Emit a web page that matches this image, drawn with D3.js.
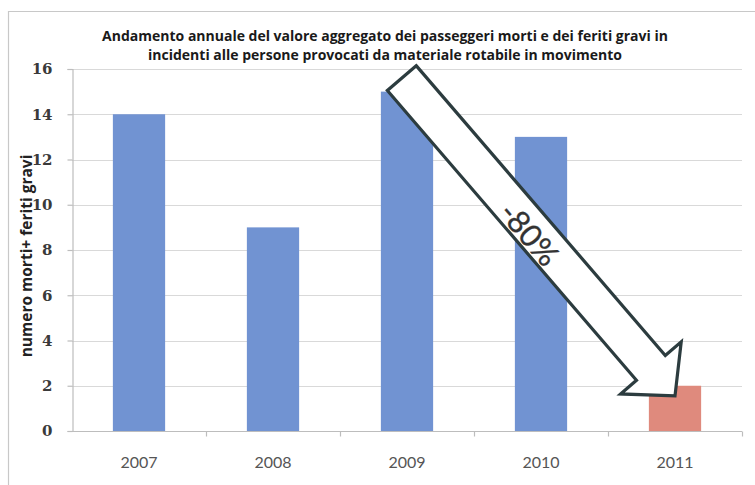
<!DOCTYPE html>
<html>
<head>
<meta charset="utf-8">
<script src="https://cdn.jsdelivr.net/npm/d3@7/dist/d3.min.js"></script>
<style>
  html, body { margin: 0; padding: 0; background: #fff; }
  svg { display: block; }
</style>
</head>
<body>
<svg id="chart" width="755" height="485"></svg>
<script>
// Yearly aggregate of passengers killed and seriously injured
const years = ["2007", "2008", "2009", "2010", "2011"];
const values = [14, 9, 15, 13, 2];
const yTicks = [0, 2, 4, 6, 8, 10, 12, 14, 16];
const titleLines = [
  "Andamento annuale del valore aggregato dei passeggeri morti e dei feriti gravi in",
  "incidenti alle persone provocati da materiale rotabile in movimento"
];
const yTitle = "numero morti+ feriti gravi";
const changeLabel = "-80%";

const svg = d3.select("#chart");
const W = 755, H = 485;
const margin = { left: 72, right: 15, top: 69, bottom: 54 };

svg.append("rect").attr("width", W).attr("height", H).attr("fill", "#fff");

// outer frame of the chart area
svg.append("path")
  .attr("d", `M8.5,${H} L8.5,11.5 L${W},11.5`)
  .attr("fill", "none")
  .attr("stroke", "#c8c8c8")
  .attr("stroke-width", 1.2);

const x = d3.scaleBand()
  .domain(years)
  .range([margin.left, W - margin.right + 2])
  .paddingInner(0.61)
  .paddingOuter(0.305);

const y = d3.scaleLinear()
  .domain([0, 16])
  .range([H - margin.bottom, margin.top]);

const x0 = x.range()[0], x1 = x.range()[1];

// horizontal gridlines
svg.append("g")
  .selectAll("line")
  .data(yTicks.filter(d => d > 0))
  .join("line")
  .attr("x1", x0).attr("x2", x1)
  .attr("y1", d => Math.round(y(d)) + 0.5)
  .attr("y2", d => Math.round(y(d)) + 0.5)
  .attr("stroke", "#d9d9d9")
  .attr("stroke-width", 1.2);

// y axis
const yAxis = svg.append("g")
  .attr("transform", `translate(${x0 + 0.5},0)`)
  .call(d3.axisLeft(y).tickValues(yTicks).tickSize(5).tickPadding(15).tickFormat(d3.format("d")));
yAxis.select(".domain").attr("stroke", "#bdbdbd").attr("stroke-width", 1.2);
yAxis.selectAll(".tick line").attr("stroke", "#bdbdbd").attr("stroke-width", 1.2);
yAxis.selectAll(".tick text")
  .attr("fill", "#3a3a3a")
  .attr("font-family", "'DejaVu Serif', serif")
  .attr("font-weight", "bold")
  .attr("font-size", "15px");

// bars
svg.append("g")
  .selectAll("rect")
  .data(years.map((yr, i) => ({ yr, v: values[i] })))
  .join("rect")
  .attr("x", d => x(d.yr))
  .attr("width", x.bandwidth())
  .attr("y", d => y(d.v))
  .attr("height", d => y(0) - y(d.v))
  .attr("fill", d => d.yr === "2011" ? "#df8a7d" : "#7193d2");

// x axis line and category separator ticks
const base = Math.round(y(0)) + 0.5;
svg.append("line")
  .attr("x1", x0).attr("x2", x1)
  .attr("y1", base).attr("y2", base)
  .attr("stroke", "#bdbdbd").attr("stroke-width", 1.2);
const gap = x.step() - x.bandwidth();
const seps = years.slice(1).map(yr => x(yr) - gap / 2).concat([x1]);
svg.append("g")
  .selectAll("line")
  .data(seps)
  .join("line")
  .attr("x1", d => Math.round(d) + 0.5).attr("x2", d => Math.round(d) + 0.5)
  .attr("y1", base).attr("y2", base + 5)
  .attr("stroke", "#bdbdbd").attr("stroke-width", 1.2);

// x labels
svg.append("g")
  .selectAll("text")
  .data(years)
  .join("text")
  .attr("x", d => x(d) + x.bandwidth() / 2)
  .attr("y", base + 36)
  .attr("text-anchor", "middle")
  .attr("fill", "#555")
  .style("font-family", "Lato, sans-serif")
  .style("font-size", "16px")
  .text(d => d);

// y axis title
svg.append("text")
  .attr("transform", `translate(32,${(y(0) + y(16)) / 2 + 6}) rotate(-90)`)
  .attr("text-anchor", "middle")
  .attr("fill", "#222")
  .style("font-family", "'Open Sans', sans-serif")
  .style("font-weight", "bold")
  .style("font-size", "15.5px")
  .text(yTitle);

// title
svg.append("g")
  .selectAll("text")
  .data(titleLines)
  .join("text")
  .attr("x", 385)
  .attr("y", (d, i) => 41 + i * 19)
  .attr("text-anchor", "middle")
  .attr("fill", "#1a1a1a")
  .style("font-family", "'Open Sans', sans-serif")
  .style("font-weight", "bold")
  .style("font-size", "14px")
  .text(d => d);

// block arrow from the 2009 peak down to the 2011 value
const tail = [x("2009") + x.bandwidth() * 0.4, y(15.6)];
const tip = [x("2011") + x.bandwidth() / 2, y(1.55)];
const dx = tip[0] - tail[0], dy = tip[1] - tail[1];
const L = Math.hypot(dx, dy);
const ang = Math.atan2(dy, dx) * 180 / Math.PI;
const sw = 19, hw = 40, hl = 37;
const arrowPts = [[0, -sw], [L - hl, -sw], [L - hl, -hw], [L, 0], [L - hl, hw], [L - hl, sw], [0, sw]];
const arrow = svg.append("g")
  .attr("transform", `translate(${tail[0]},${tail[1]}) rotate(${ang})`);
arrow.append("path")
  .attr("d", d3.line()(arrowPts) + "Z")
  .attr("fill", "#fff")
  .attr("stroke", "#2c3c3f")
  .attr("stroke-width", 3.2)
  .attr("stroke-linejoin", "miter");
arrow.append("text")
  .attr("x", L * 0.48)
  .attr("y", 4)
  .attr("text-anchor", "middle")
  .attr("dominant-baseline", "central")
  .attr("fill", "#333")
  .attr("stroke", "#333")
  .attr("stroke-width", 0.3)
  .style("font-family", "Lato, sans-serif")
  .style("font-size", "31px")
  .text(changeLabel);
</script>
</body>
</html>
